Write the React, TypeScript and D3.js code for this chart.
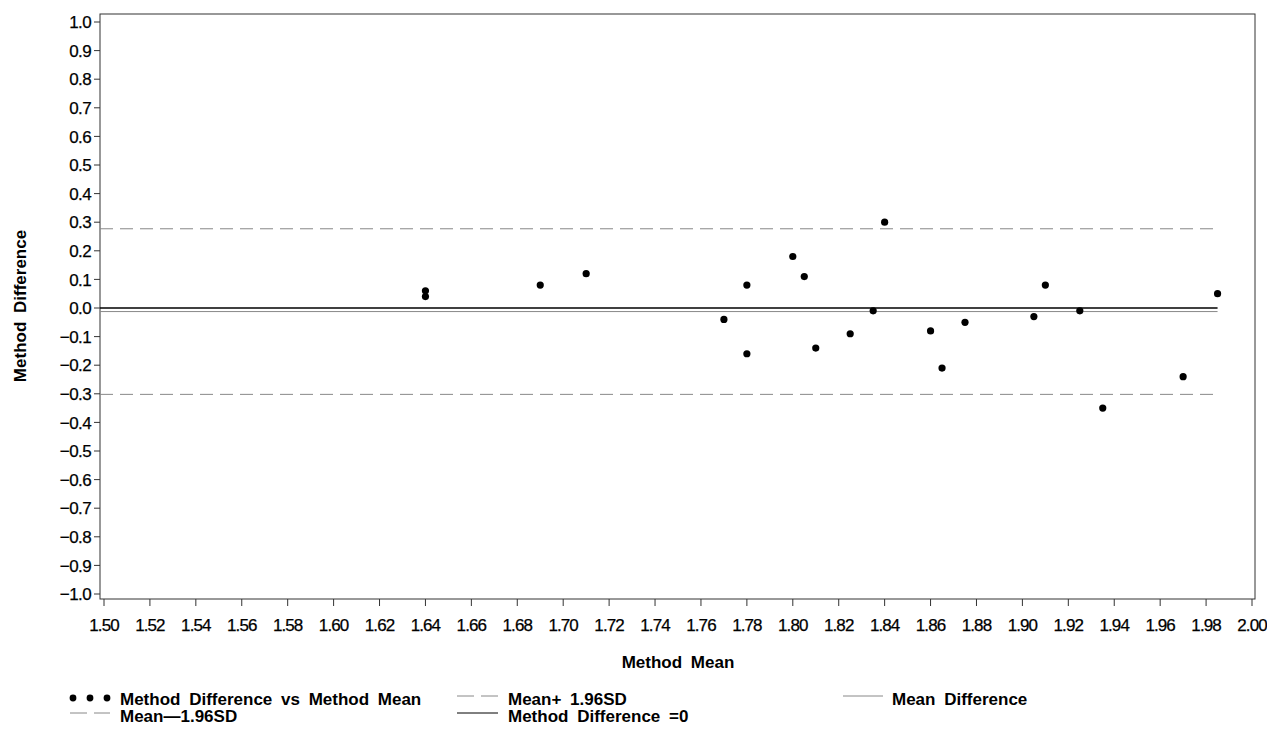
import React from "react";
import * as d3 from "d3";

// Bland-Altman style data: method mean vs method difference
const methodMean = [1.64, 1.64, 1.69, 1.71, 1.77, 1.78, 1.78, 1.8, 1.805, 1.81, 1.825, 1.835, 1.84, 1.86, 1.865, 1.875, 1.905, 1.91, 1.925, 1.935, 1.97, 1.985];
const methodDiff = [0.06, 0.04, 0.08, 0.12, -0.04, 0.08, -0.16, 0.18, 0.11, -0.14, -0.09, -0.01, 0.3, -0.08, -0.21, -0.05, -0.03, 0.08, -0.01, -0.35, -0.24, 0.05];

const meanDiff = -0.0125;
const upperLimit = 0.277;
const lowerLimit = -0.302;

const xTicks = d3.range(0, 26).map(i => +(1.5 + i * 0.02).toFixed(2));
const yTicks = d3.range(-10, 11).map(i => +(i / 10).toFixed(1));

const W = 1267;
const H = 729;
const frame = { left: 100, top: 14, right: 1255, bottom: 599 };

const font = "'Liberation Sans', Arial, sans-serif";

const App = () => {
  const x = d3.scaleLinear().domain([1.5, 2.0]).range([104, 1252]);
  const y = d3.scaleLinear().domain([-1, 1]).range([594, 22]);
  const fmtX = d3.format(".2f");
  const fmtY = (v: number) => d3.format(".1f")(v).replace("-", "\u2013");
  const lineEnd = x(d3.max(methodMean) as number);

  return (
    <svg width={W} height={H} style={{ position: "absolute", left: 0, top: 0, background: "#fff" }} fontFamily={font}>
      {/* frame */}
      <rect x={frame.left} y={frame.top} width={frame.right - frame.left} height={frame.bottom - frame.top} fill="none" stroke="#333" strokeWidth={1} />

      {/* y axis */}
      {yTicks.map(t => (
        <g key={"y" + t}>
          <line x1={frame.left - 6} x2={frame.left} y1={y(t)} y2={y(t)} stroke="#333" />
          <text x={frame.left - 9} y={y(t)} dy="0.36em" textAnchor="end" fontSize={17} letterSpacing={-0.6} stroke="#000" strokeWidth={0.25}>{fmtY(t)}</text>
        </g>
      ))}

      {/* x axis */}
      {xTicks.map(t => (
        <g key={"x" + t}>
          <line x1={x(t)} x2={x(t)} y1={frame.bottom} y2={frame.bottom + 7} stroke="#333" />
          <text x={x(t)} y={frame.bottom + 32} textAnchor="middle" fontSize={17} letterSpacing={-0.9} stroke="#000" strokeWidth={0.25}>{fmtX(t)}</text>
        </g>
      ))}

      <text x={678} y={668} textAnchor="middle" fontSize={17} fontWeight="bold" wordSpacing={4}>Method Mean</text>
      <text transform={`translate(26, ${y(0) - 2}) rotate(-90)`} textAnchor="middle" fontSize={17} fontWeight="bold" wordSpacing={4}>Method Difference</text>

      {/* reference lines */}
      <line x1={frame.left} x2={lineEnd} y1={y(upperLimit)} y2={y(upperLimit)} stroke="#888" strokeDasharray="13,7" />
      <line x1={frame.left} x2={lineEnd} y1={y(lowerLimit)} y2={y(lowerLimit)} stroke="#888" strokeDasharray="13,7" />
      <line x1={frame.left} x2={lineEnd} y1={y(meanDiff)} y2={y(meanDiff)} stroke="#888" />
      <line x1={frame.left} x2={lineEnd} y1={y(0)} y2={y(0)} stroke="#000" strokeWidth={1.3} />

      {/* points */}
      {methodMean.map((m, i) => (
        <circle key={i} cx={x(m)} cy={y(methodDiff[i])} r={3.6} fill="#000" />
      ))}

      {/* legend */}
      <g fontSize={17} fontWeight="bold" wordSpacing={4}>
        {[73, 90, 107].map(cx => <circle key={cx} cx={cx} cy={698} r={3.4} fill="#000" />)}
        <text x={120} y={705}>Method Difference vs Method Mean</text>

        <line x1={457} x2={498} y1={696} y2={696} stroke="#888" strokeDasharray="17,7" />
        <text x={508} y={705}>Mean+ 1.96SD</text>

        <line x1={843} x2={883} y1={696} y2={696} stroke="#888" />
        <text x={892} y={705}>Mean Difference</text>

        <line x1={70} x2={110} y1={713} y2={713} stroke="#888" strokeDasharray="17,7" />
        <text x={120} y={722}>Mean{"\u2014"}1.96SD</text>

        <line x1={457} x2={498} y1={713} y2={713} stroke="#000" />
        <text x={508} y={722}>Method Difference =0</text>
      </g>
    </svg>
  );
};

export default App;
